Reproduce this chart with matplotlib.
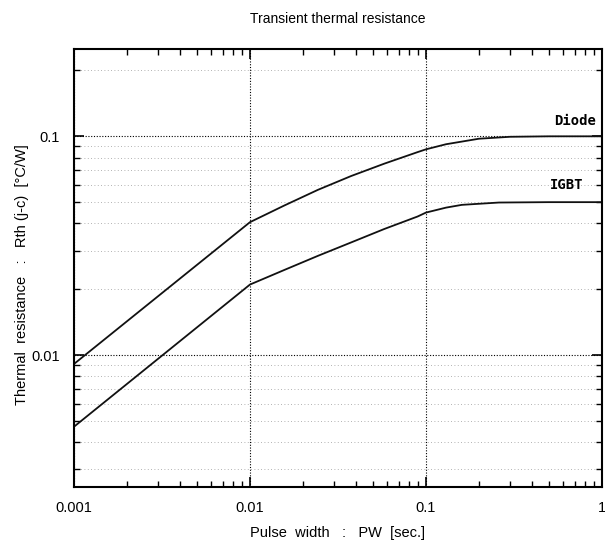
import numpy as np
import matplotlib.pyplot as plt
from matplotlib.ticker import LogLocator, NullFormatter, FixedLocator, FixedFormatter

# values
pw_diode = [0.001, 0.01, 0.0157, 0.0243, 0.0375, 0.058, 0.0897, 0.1, 0.13, 0.2, 0.3, 0.5, 1.0]
rth_diode = [0.0091, 0.0405, 0.0483, 0.0569, 0.0658, 0.075, 0.0847, 0.0872, 0.092, 0.0975, 0.0995, 0.1, 0.1]
pw_igbt = [0.001, 0.01, 0.0157, 0.0243, 0.0375, 0.058, 0.0897, 0.1, 0.13, 0.16, 0.26, 0.5, 1.0]
rth_igbt = [0.0047, 0.0210, 0.0245, 0.0284, 0.0327, 0.0377, 0.0430, 0.0448, 0.0472, 0.0486, 0.0498, 0.05, 0.05]

x_ticks = [0.001, 0.01, 0.1, 1]
x_labels = ['0.001', '0.01', '0.1', '1']
y_ticks = [0.01, 0.1]
y_labels = ['0.01', '0.1']

plt.rcParams['font.family'] = ['Liberation Sans', 'DejaVu Sans']

fig = plt.figure(figsize=(6.05, 5.41), dpi=100)
ax = fig.add_axes([0.1223, 0.1004, 0.8727, 0.8085])

ax.plot(pw_diode, rth_diode, color='#111111', lw=1.3)
ax.plot(pw_igbt, rth_igbt, color='#111111', lw=1.3)

ax.set_xscale('log')
ax.set_yscale('log')
ax.set_xlim(0.001, 1)
ax.set_ylim(0.0025, 0.25)

ax.xaxis.set_major_locator(FixedLocator(x_ticks))
ax.xaxis.set_major_formatter(FixedFormatter(x_labels))
ax.yaxis.set_major_locator(FixedLocator(y_ticks))
ax.yaxis.set_major_formatter(FixedFormatter(y_labels))
ax.xaxis.set_minor_locator(LogLocator(base=10, subs=np.arange(2, 10)))
ax.yaxis.set_minor_locator(LogLocator(base=10, subs=np.arange(2, 10)))
ax.xaxis.set_minor_formatter(NullFormatter())
ax.yaxis.set_minor_formatter(NullFormatter())

ax.tick_params(which='both', direction='in', top=True, right=True, labelsize=10.5, pad=10)
ax.tick_params(which='major', length=7, width=1.2)
ax.tick_params(which='minor', length=4, width=1.0)
for s in ax.spines.values():
    s.set_linewidth(1.5)

ax.grid(which='major', color='black', linestyle=(0, (1, 1.5)), linewidth=0.8)
ax.grid(which='minor', axis='y', color='#999999', linestyle=(0, (1, 3)), linewidth=0.6)

ax.text(0.925, 0.118, 'Diode', ha='right', va='center', fontsize=10,
        fontweight='bold', family='DejaVu Sans Mono')
ax.text(0.78, 0.0596, 'IGBT', ha='right', va='center', fontsize=10,
        fontweight='bold', family='DejaVu Sans Mono')

ax.set_title('Transient thermal resistance', fontsize=10, pad=19)
ax.set_xlabel('Pulse  width   :   PW  [sec.]', fontsize=10.5, labelpad=8)
ax.set_ylabel('Thermal  resistance   :   Rth (j-c)  [°C/W]', fontsize=10.5, labelpad=6)
ax.yaxis.set_label_coords(-0.085, 0.485)

fig.savefig('out.png', dpi=100)
